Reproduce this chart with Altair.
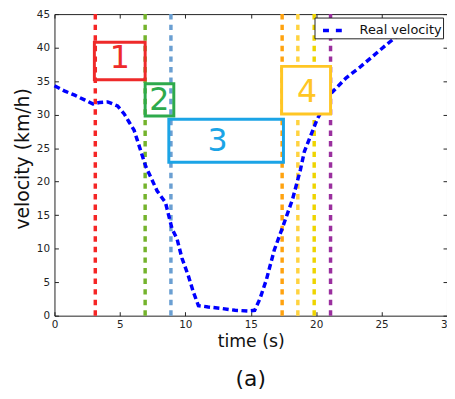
import altair as alt
import pandas as pd

FONT = "DejaVu Sans"

# ---- data ----
time_s = [0.0, 0.8, 1.55, 2.3, 2.93, 3.44, 4.07, 4.82, 5.33, 5.7, 6.08, 6.33,
          6.97, 7.85, 8.48, 8.98, 9.36, 9.74, 10.24, 10.62, 11.0, 11.75, 12.7,
          13.8, 14.8, 15.3, 15.7, 16.2, 16.8, 17.4, 18.2, 18.8, 19.1, 20.1,
          21.2, 22.3, 23.3, 24.8, 25.6, 27.0]
velocity = [34.3, 33.5, 32.9, 32.2, 31.6, 31.8, 31.9, 31.3, 30.1, 28.9, 27.7, 26.2,
            22.3, 18.6, 16.9, 13.0, 11.5, 8.6, 5.9, 3.5, 1.5, 1.3, 1.1,
            0.8, 0.7, 0.8, 2.5, 5.4, 9.8, 13.0, 17.4, 21.8, 24.5, 29.4,
            33.3, 35.5, 37.0, 39.5, 40.8, 43.0]
series_name = "Real velocity"

event_names = ["e1", "e2", "e3", "e4", "e5", "e6", "e7"]
event_times = [3.12, 6.93, 8.9, 17.4, 18.6, 19.85, 21.1]
event_colors = ["#f52525", "#74b32c", "#6a9fd2", "#ffa20f", "#ffd340", "#eed400", "#9a2f9e"]

box_labels = ["1", "2", "3", "4"]
box_x0 = [3.05, 6.93, 8.74, 17.36]
box_x1 = [6.93, 9.12, 17.5, 21.1]
box_y0 = [35.2, 29.8, 22.9, 30.1]
box_y1 = [40.8, 34.6, 29.3, 37.2]
label_x = [4.99, 8.01, 12.47, 19.31]
label_y = [38.4, 32.2, 26.0, 33.3]
box_colors = ["#ee2a2a", "#2eaa4c", "#1ba4e6", "#ffc624"]

x_ticks = [0, 5, 10, 15, 20, 25, 30]
y_ticks = [0, 5, 10, 15, 20, 25, 30, 35, 40, 45]

W, H = 397, 305

vel_df = pd.DataFrame({"t": time_s, "v": velocity, "series": series_name})
ev_df = pd.DataFrame({"name": event_names, "t": event_times})
box_df = pd.DataFrame({"label": box_labels, "x0": box_x0, "x1": box_x1,
                       "y0": box_y0, "y1": box_y1, "lx": label_x, "ly": label_y})

xs = alt.Scale(domain=[0, 30], nice=False, zero=False)
ys = alt.Scale(domain=[0, 45], nice=False, zero=False)


def tick_axis(orient, offset, values):
    return alt.Axis(orient=orient, offset=offset, values=values, labels=False,
                    domain=False, grid=False, ticks=True, tickSize=4,
                    tickColor="#222", tickWidth=1, title=None)


main_x_axis = alt.Axis(orient="bottom", values=x_ticks, ticks=False, domain=False,
                       grid=False, labelPadding=4, labelFontSize=10.5,
                       labelColor="#222", labelFont=FONT, labelFlush=False,
                       title="time (s)", titleFont=FONT, titleFontSize=17.5,
                       titleFontWeight="normal", titleColor="#111",
                       titleX=W / 2, titleY=31.4, titleBaseline="alphabetic",
                       titleAlign="center")
main_y_axis = alt.Axis(orient="left", values=y_ticks, ticks=False, domain=False,
                       grid=False, labelPadding=5, labelFontSize=10.5,
                       labelColor="#222", labelFont=FONT, labelFlush=False,
                       title="velocity (km/h)", titleFont=FONT, titleFontSize=19,
                       titleFontWeight="normal", titleColor="#111",
                       titleAngle=270, titleX=-26, titleY=146,
                       titleBaseline="alphabetic", titleAlign="center")

rules = alt.Chart(ev_df).mark_rule(strokeWidth=3.5, strokeDash=[5.5, 5.2],
                                   strokeCap="butt").encode(
    x=alt.X("t:Q", scale=xs, axis=None),
    color=alt.Color("name:N", scale=alt.Scale(domain=event_names, range=event_colors),
                    legend=None),
)

line = alt.Chart(vel_df).mark_line(strokeWidth=3.5, strokeDash=[6, 3.5],
                                   strokeCap="butt").encode(
    x=alt.X("t:Q", scale=xs, axis=main_x_axis),
    y=alt.Y("v:Q", scale=ys, axis=main_y_axis),
    color=alt.Color("series:N",
                    scale=alt.Scale(domain=[series_name], range=["#0000ff"]),
                    legend=alt.Legend(title=None, orient="none", legendX=263,
                                      legendY=3.5, padding=1, strokeColor="#222",
                                      fillColor="white", cornerRadius=0,
                                      symbolType="stroke", symbolSize=400,
                                      symbolStrokeWidth=3.5, symbolDash=[6, 7],
                                      symbolOffset=5.6, labelOffset=15,
                                      labelFont=FONT, labelFontSize=13,
                                      labelColor="#111")),
)

boxes = alt.Chart(box_df).mark_rect(fill="white", strokeWidth=3).encode(
    x=alt.X("x0:Q", scale=xs, axis=tick_axis("top", -H, x_ticks)),
    x2="x1:Q",
    y=alt.Y("y0:Q", scale=ys, axis=tick_axis("right", -W, y_ticks)),
    y2="y1:Q",
    stroke=alt.Stroke("label:N", scale=alt.Scale(domain=box_labels, range=box_colors),
                      legend=None),
    fillOpacity=alt.condition(alt.datum.label == "4", alt.value(1), alt.value(0)),
)

labels = alt.Chart(box_df).mark_text(font=FONT, fontSize=32, baseline="middle",
                                     align="center").encode(
    x=alt.X("lx:Q", scale=xs, axis=tick_axis("bottom", -H, x_ticks)),
    y=alt.Y("ly:Q", scale=ys, axis=tick_axis("left", -W, y_ticks)),
    text="label:N",
    color=alt.Color("label:N", scale=alt.Scale(domain=box_labels, range=box_colors),
                    legend=None),
)

chart = alt.layer(rules, line, boxes, labels).resolve_axis(
    x="independent", y="independent"
).resolve_scale(
    color="independent", stroke="independent"
).properties(
    width=W, height=H,
    title=alt.TitleParams("(a)", orient="bottom", anchor="middle", fontSize=22,
                          font=FONT, fontWeight="normal", color="#111", offset=19),
    autosize=alt.AutoSizeParams(type="none"),
    padding={"left": 47, "top": 4, "right": 0, "bottom": 73},
).configure_view(stroke="#222", strokeWidth=1)

chart.save("out.html", embed_options={"renderer": "svg", "actions": False})
